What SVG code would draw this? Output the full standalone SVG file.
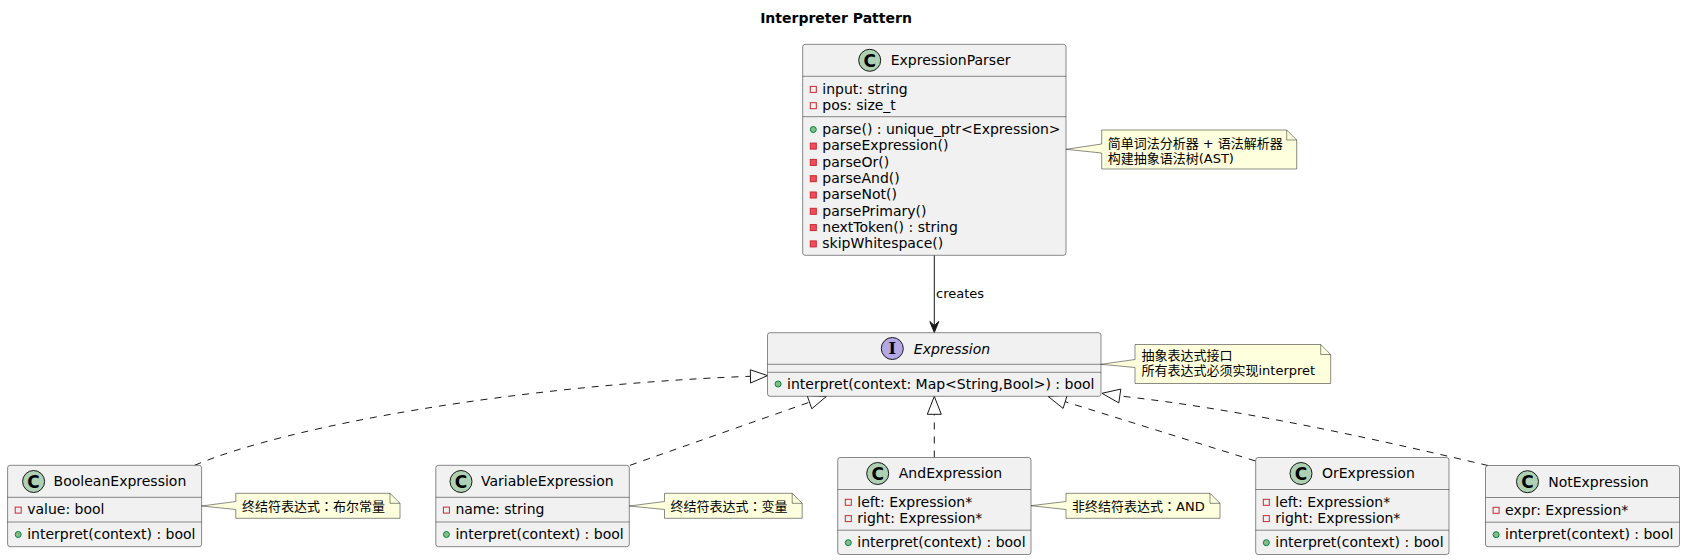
<svg xmlns="http://www.w3.org/2000/svg" width="1685" height="560" viewBox="0 0 1685 560">
<style>
.t{font-family:"DejaVu Sans","Noto Sans CJK SC",sans-serif;fill:#000}
.title{font-size:14px;font-weight:bold}
.name{font-size:14px}
.mem{font-size:14px}
.nt{font-size:13px}
.lbl{font-size:13px}
.col{font-family:"Noto Sans CJK TC","Noto Sans CJK JP",sans-serif}
.box{fill:#F1F1F1;stroke:#181818;stroke-width:0.5}
.sep{stroke:#181818;stroke-width:0.5}
.spotC{fill:#ADD1B2;stroke:#181818;stroke-width:1}
.spotI{fill:#B4A7E5;stroke:#181818;stroke-width:1}
.sl{font-family:"DejaVu Sans",sans-serif;font-size:17px;font-weight:bold;fill:#000}
.slI{font-family:"DejaVu Serif",serif;font-size:16px;font-weight:bold;fill:#000}
.pa{fill:none;stroke:#C82930;stroke-width:1}
.pm{fill:#F24D5C;stroke:#C82930;stroke-width:1}
.pub{fill:#84BE84;stroke:#038048;stroke-width:1}
.note{fill:#FEFFDD;stroke:#181818;stroke-width:0.5}
.fold{fill:none;stroke:#181818;stroke-width:0.5}
.dash{fill:none;stroke:#181818;stroke-width:1;stroke-dasharray:7,7}
.solid{fill:none;stroke:#181818;stroke-width:1}
.tri{fill:none;stroke:#181818;stroke-width:1}
.head{fill:#181818;stroke:#181818;stroke-width:1}
</style>

<text class="t title" x="836" y="23" text-anchor="middle">Interpreter Pattern</text>

<g id="connectors">
  <path class="solid" d="M934.3,255.3 L934.3,331"/>
  <polygon class="head" points="934.3,332.5 929.8,321.5 934.3,325.5 938.8,321.5"/>
  <text class="t lbl" x="936" y="297.7">creates</text>

  <path class="dash" d="M194.6,465.3 C290,425 520,385 750,376.3"/>
  <polygon class="tri" points="767.5,375.6 750.6,383 750.3,369.8"/>

  <path class="dash" d="M630,465.3 L809.5,402.2"/>
  <polygon class="tri" points="826.5,396.3 811.8,408.8 807.2,395.6"/>

  <path class="dash" d="M934.3,457.5 L934.3,414.3"/>
  <polygon class="tri" points="934.3,396.3 927.3,414.3 941.3,414.3"/>

  <path class="dash" d="M1255.5,461 L1065.2,401.7"/>
  <polygon class="tri" points="1048,396.3 1067.3,395 1063.1,408.4"/>

  <path class="dash" d="M1488,465.5 C1400,445 1250,410 1119.8,396"/>
  <polygon class="tri" points="1102,393.3 1120.8,389.1 1118.8,402.9"/>
</g>

<g id="ExpressionParser">
  <rect class="box" x="802.7" y="44.3" width="263.3" height="211" rx="2.5"/>
  <line class="sep" x1="802.7" y1="76.3" x2="1066" y2="76.3"/>
  <line class="sep" x1="802.7" y1="116.7" x2="1066" y2="116.7"/>
  <circle class="spotC" cx="869.7" cy="60.3" r="11"/>
  <text class="sl" x="869.7" y="66.5" text-anchor="middle">C</text>
  <text class="t name" x="890.7" y="65.2">ExpressionParser</text>
  <rect class="pa" x="810.3" y="86.4" width="6" height="6"/>
  <text class="t mem" x="822.3" y="93.6">input: string</text>
  <rect class="pa" x="810.3" y="102.7" width="6" height="6"/>
  <text class="t mem" x="822.3" y="109.9">pos: size_t</text>
  <circle class="pub" cx="813.3" cy="129.5" r="3"/>
  <text class="t mem" x="822.3" y="134">parse() : unique_ptr&lt;Expression&gt;</text>
  <rect class="pm" x="810.3" y="143.1" width="6" height="6"/>
  <text class="t mem" x="822.3" y="150.3">parseExpression()</text>
  <rect class="pm" x="810.3" y="159.4" width="6" height="6"/>
  <text class="t mem" x="822.3" y="166.6">parseOr()</text>
  <rect class="pm" x="810.3" y="175.7" width="6" height="6"/>
  <text class="t mem" x="822.3" y="182.9">parseAnd()</text>
  <rect class="pm" x="810.3" y="192" width="6" height="6"/>
  <text class="t mem" x="822.3" y="199.2">parseNot()</text>
  <rect class="pm" x="810.3" y="208.3" width="6" height="6"/>
  <text class="t mem" x="822.3" y="215.5">parsePrimary()</text>
  <rect class="pm" x="810.3" y="224.6" width="6" height="6"/>
  <text class="t mem" x="822.3" y="231.8">nextToken() : string</text>
  <rect class="pm" x="810.3" y="240.9" width="6" height="6"/>
  <text class="t mem" x="822.3" y="248.1">skipWhitespace()</text>
</g>

<g id="note-parser">
  <path class="note" d="M1101.7,130 L1101.7,144 L1066,149.3 L1101.7,153 L1101.7,169 L1296.7,169 L1296.7,140 L1286.7,130 Z"/>
  <path class="fold" d="M1286.7,130 L1286.7,140 L1296.7,140"/>
  <text class="t nt" x="1107.7" y="147.5">简单词法分析器 + 语法解析器</text>
  <text class="t nt" x="1107.7" y="162.7">构建抽象语法树(AST)</text>
</g>

<g id="Expression">
  <rect class="box" x="767.5" y="332.7" width="333.5" height="63.6" rx="2.5"/>
  <line class="sep" x1="767.5" y1="364.3" x2="1101" y2="364.3"/>
  <line class="sep" x1="767.5" y1="372.3" x2="1101" y2="372.3"/>
  <circle class="spotI" cx="892.3" cy="348.5" r="11"/>
  <text class="slI" x="892.3" y="354.3" text-anchor="middle">I</text>
  <text class="t name" x="913.8" y="353.6" font-style="italic">Expression</text>
  <circle class="pub" cx="778.1" cy="384" r="3"/>
  <text class="t mem" x="787.1" y="388.5">interpret(context: Map&lt;String,Bool&gt;) : bool</text>
</g>

<g id="note-expression">
  <path class="note" d="M1135,344.5 L1135,359.5 L1101,364.3 L1135,367.5 L1135,383.5 L1330.7,383.5 L1330.7,354.5 L1320.7,344.5 Z"/>
  <path class="fold" d="M1320.7,344.5 L1320.7,354.5 L1330.7,354.5"/>
  <text class="t nt" x="1141.5" y="359.5">抽象表达式接口</text>
  <text class="t nt" x="1141.5" y="375">所有表达式必须实现interpret</text>
</g>

<g id="BooleanExpression">
  <rect class="box" x="7.6" y="465.3" width="194" height="81.4" rx="2.5"/>
  <line class="sep" x1="7.6" y1="497.3" x2="201.6" y2="497.3"/>
  <line class="sep" x1="7.6" y1="522" x2="201.6" y2="522"/>
  <circle class="spotC" cx="33.6" cy="481.5" r="11"/>
  <text class="sl" x="33.6" y="487.7" text-anchor="middle">C</text>
  <text class="t name" x="53.6" y="486.4">BooleanExpression</text>
  <rect class="pa" x="15.2" y="507.1" width="6" height="6"/>
  <text class="t mem" x="27.2" y="514.3">value: bool</text>
  <circle class="pub" cx="18.2" cy="534.5" r="3"/>
  <text class="t mem" x="27.2" y="539">interpret(context) : bool</text>
</g>

<g id="note-boolean">
  <path class="note" d="M235.8,493.3 L235.8,501.5 L201.6,506 L235.8,509.5 L235.8,518.3 L400,518.3 L400,503.3 L390,493.3 Z"/>
  <path class="fold" d="M390,493.3 L390,503.3 L400,503.3"/>
  <text class="t nt" x="242" y="511">终结符表达式<tspan class="col">：</tspan>布尔常量</text>
</g>

<g id="VariableExpression">
  <rect class="box" x="435.8" y="465.3" width="193.5" height="81.4" rx="2.5"/>
  <line class="sep" x1="435.8" y1="497.3" x2="629.3" y2="497.3"/>
  <line class="sep" x1="435.8" y1="522" x2="629.3" y2="522"/>
  <circle class="spotC" cx="461" cy="481.5" r="11"/>
  <text class="sl" x="461" y="487.7" text-anchor="middle">C</text>
  <text class="t name" x="481" y="486.4">VariableExpression</text>
  <rect class="pa" x="443.4" y="507.1" width="6" height="6"/>
  <text class="t mem" x="455.4" y="514.3">name: string</text>
  <circle class="pub" cx="446.4" cy="534.5" r="3"/>
  <text class="t mem" x="455.4" y="539">interpret(context) : bool</text>
</g>

<g id="note-variable">
  <path class="note" d="M664.5,493.3 L664.5,501.5 L629.3,506 L664.5,509.5 L664.5,518.3 L802.2,518.3 L802.2,503.3 L792.2,493.3 Z"/>
  <path class="fold" d="M792.2,493.3 L792.2,503.3 L802.2,503.3"/>
  <text class="t nt" x="670.5" y="511">终结符表达式<tspan class="col">：</tspan>变量</text>
</g>

<g id="AndExpression">
  <rect class="box" x="837.7" y="457.5" width="193.3" height="97" rx="2.5"/>
  <line class="sep" x1="837.7" y1="489.5" x2="1031" y2="489.5"/>
  <line class="sep" x1="837.7" y1="530.2" x2="1031" y2="530.2"/>
  <circle class="spotC" cx="877.7" cy="473.5" r="11"/>
  <text class="sl" x="877.7" y="479.7" text-anchor="middle">C</text>
  <text class="t name" x="898.8" y="478.4">AndExpression</text>
  <rect class="pa" x="845.3" y="499.3" width="6" height="6"/>
  <text class="t mem" x="857.3" y="506.5">left: Expression*</text>
  <rect class="pa" x="845.3" y="515.6" width="6" height="6"/>
  <text class="t mem" x="857.3" y="522.8">right: Expression*</text>
  <circle class="pub" cx="848.3" cy="542.7" r="3"/>
  <text class="t mem" x="857.3" y="547.2">interpret(context) : bool</text>
</g>

<g id="note-and">
  <path class="note" d="M1066,493.3 L1066,501.5 L1031,505.7 L1066,509.5 L1066,518.3 L1220,518.3 L1220,503.3 L1210,493.3 Z"/>
  <path class="fold" d="M1210,493.3 L1210,503.3 L1220,503.3"/>
  <text class="t nt" x="1072" y="511">非终结符表达式<tspan class="col">：</tspan>AND</text>
</g>

<g id="OrExpression">
  <rect class="box" x="1255.7" y="457.5" width="193.3" height="97" rx="2.5"/>
  <line class="sep" x1="1255.7" y1="489.5" x2="1449" y2="489.5"/>
  <line class="sep" x1="1255.7" y1="530.2" x2="1449" y2="530.2"/>
  <circle class="spotC" cx="1301" cy="473.5" r="11"/>
  <text class="sl" x="1301" y="479.7" text-anchor="middle">C</text>
  <text class="t name" x="1322" y="478.4">OrExpression</text>
  <rect class="pa" x="1263.3" y="499.3" width="6" height="6"/>
  <text class="t mem" x="1275.3" y="506.5">left: Expression*</text>
  <rect class="pa" x="1263.3" y="515.6" width="6" height="6"/>
  <text class="t mem" x="1275.3" y="522.8">right: Expression*</text>
  <circle class="pub" cx="1266.3" cy="542.7" r="3"/>
  <text class="t mem" x="1275.3" y="547.2">interpret(context) : bool</text>
</g>

<g id="NotExpression">
  <rect class="box" x="1485.5" y="465.5" width="194" height="81.2" rx="2.5"/>
  <line class="sep" x1="1485.5" y1="497.5" x2="1679.5" y2="497.5"/>
  <line class="sep" x1="1485.5" y1="522.2" x2="1679.5" y2="522.2"/>
  <circle class="spotC" cx="1527.5" cy="481.7" r="11"/>
  <text class="sl" x="1527.5" y="487.9" text-anchor="middle">C</text>
  <text class="t name" x="1548.2" y="486.6">NotExpression</text>
  <rect class="pa" x="1493.1" y="507.3" width="6" height="6"/>
  <text class="t mem" x="1505.1" y="514.5">expr: Expression*</text>
  <circle class="pub" cx="1496.1" cy="534.7" r="3"/>
  <text class="t mem" x="1505.1" y="539.2">interpret(context) : bool</text>
</g>
</svg>
